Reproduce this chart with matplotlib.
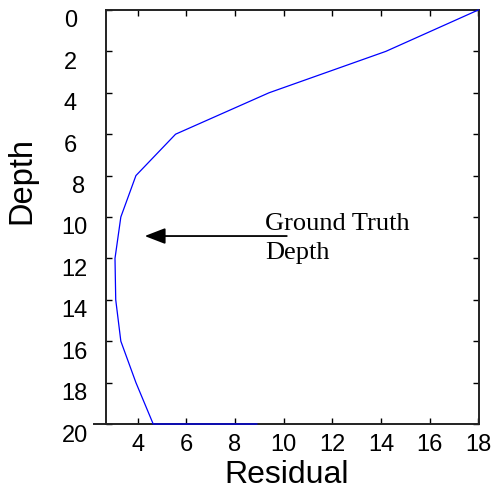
import matplotlib
matplotlib.use("Agg")
import matplotlib.pyplot as plt
import matplotlib.lines as mlines
import matplotlib.transforms as mtrans

depth = [0, 2, 4, 6, 8, 10, 12, 14, 16, 18, 20, 20]
residual = [18.0, 14.2, 9.4, 5.56, 3.93, 3.31, 3.07, 3.1, 3.31, 3.93, 4.64, 8.9]

xticks = [4, 6, 8, 10, 12, 14, 16, 18]
yticks = [0, 2, 4, 6, 8, 10, 12, 14, 16, 18, 20]

fig = plt.figure(figsize=(4.93, 4.94), dpi=100)
ax = fig.add_axes([0.215, 0.1417, 0.7566, 0.8381])

ax.plot(residual, depth, color='#0000ff', lw=0.9, zorder=3, clip_on=False)

ax.set_xlim(2.7, 18.03)
ax.set_ylim(20, 0)
ax.set_xticks(xticks)
ax.set_yticks(yticks)
ax.tick_params(direction='in', top=True, right=True, length=4, width=1,
               labelsize=17, colors='black')
ax.tick_params(axis='x', pad=7)
ax.tick_params(axis='y', pad=13)
for lab in ax.get_xticklabels() + ax.get_yticklabels():
    lab.set_family('Liberation Sans')

# per-label horizontal nudges of the y tick labels (pixels), all shifted down
for lab, val in zip(ax.get_yticklabels(), yticks):
    dx = -11 if val < 8 else (-3 if val == 8 else 0)
    off = mtrans.ScaledTranslation(dx / 100, -9 / 100, fig.dpi_scale_trans)
    lab.set_transform(lab.get_transform() + off)

for s in ax.spines.values():
    s.set_linewidth(1.4)
    s.set_color('#222222')

fig.text(286.5 / 493, 1 - 483 / 494, 'Residual', fontsize=23, family='Liberation Sans',
         ha='center', va='baseline')
fig.text(22 / 493, 1 - 180.5 / 494, 'Depth', fontsize=23.5, family='Liberation Sans',
         ha='center', va='center', rotation=90)

# left extension of bottom axis line
ext = mlines.Line2D([2.2, 2.7], [20, 20], color='#222222', lw=1.4, clip_on=False,
                    transform=ax.transData)
ax.add_line(ext)

ax.annotate('', xy=(4.29, 10.92), xytext=(10.13, 10.92),
            arrowprops=dict(arrowstyle='-|>,head_length=0.7,head_width=0.27',
                            color='black', lw=1.3, mutation_scale=18,
                            shrinkA=0, shrinkB=0))
ax.text(9.23, 10.63, 'Ground Truth', family='Liberation Serif', fontsize=19,
        va='baseline', ha='left')
ax.text(9.23, 12.05, 'Depth', family='Liberation Serif', fontsize=19,
        va='baseline', ha='left')

fig.savefig('out.png', dpi=100)
